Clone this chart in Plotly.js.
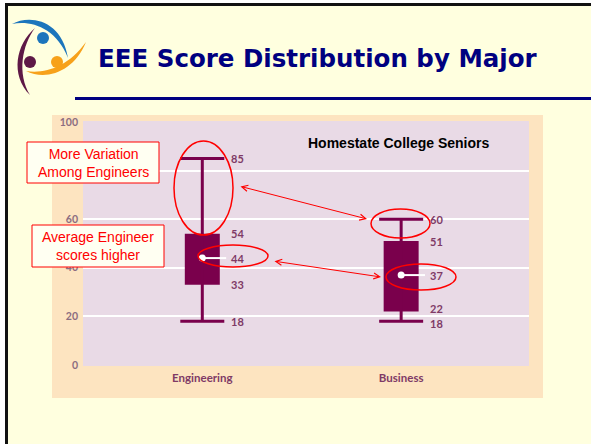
<!DOCTYPE html>
<html>
<head>
<meta charset="utf-8">
<script src="https://cdn.plot.ly/plotly-3.0.1.min.js"></script>
<style>html,body{margin:0;padding:0;background:#FFFFDF;}#chart{width:591px;height:444px;}</style>
</head>
<body>
<div id="chart"></div>
<script>
// ---- data ----
const categories = ['Engineering', 'Business'];
const lowerWhisker = [18, 18];
const q1 = [33, 22];
const median = [44, 37];
const q3 = [54, 51];
const upperWhisker = [85, 60];
const yTicks = [0, 20, 40, 60, 80, 100];
const chartTitle = 'EEE Score Distribution by Major';
const subTitle = 'Homestate College Seniors';
const note1 = 'More Variation<br>Among Engineers';
const note2 = 'Average Engineer<br>scores higher';

// ---- layout geometry ----
const W = 591, H = 444;
const L = 83, T = 122, PW = 446, PH = 243;
const px = (x) => (x - L) / PW;
const py = (y) => (T + PH - y) / PH;
const P = (x, y) => px(x) + ',' + py(y);

const boxColor = '#7A004C';
const labelColor = '#7F3A66';
const xIdx = categories.map((_, i) => i);

const traces = [
  {
    type: 'bar', x: xIdx, base: q1, y: q3.map((v, i) => v - q1[i]),
    width: 0.176, marker: { color: boxColor, line: { width: 0 } },
    hoverinfo: 'skip', showlegend: false
  },
  {
    type: 'scatter', mode: 'markers', x: xIdx, y: median,
    marker: { color: 'rgba(0,0,0,0)', size: 1 },
    error_y: {
      type: 'data', symmetric: false,
      array: upperWhisker.map((v, i) => v - median[i]),
      arrayminus: lowerWhisker.map((v, i) => median[i] - v),
      color: boxColor, thickness: 3, width: 22
    },
    hoverinfo: 'skip', showlegend: false
  },
  {
    type: 'scatter', mode: 'markers', x: xIdx, y: median,
    marker: { color: '#FFFFFF', size: 7 },
    error_x: {
      type: 'data', symmetric: false, array: xIdx.map(() => 0.12),
      arrayminus: xIdx.map(() => 0), color: '#FFFFFF', thickness: 2, width: 0
    },
    hoverinfo: 'skip', showlegend: false
  }
];

// value labels with simple de-overlap
const annotations = [];
const pxPerUnit = PH / 100;
xIdx.forEach((i) => {
  const vals = [upperWhisker[i], q3[i], median[i], q1[i], lowerWhisker[i]];
  const shifts = vals.map(() => 0);
  for (let k = 0; k < vals.length - 1; k++) {
    const gap = (vals[k] - vals[k + 1]) * pxPerUnit;
    if (gap < 15) { const d = (15 - gap) / 2; shifts[k] += d; shifts[k + 1] -= d; }
  }
  vals.forEach((v, k) => {
    annotations.push({
      x: i, y: v, xref: 'x', yref: 'y', text: String(v), showarrow: false,
      xanchor: 'left', yanchor: 'middle', xshift: 27, yshift: shifts[k],
      font: { family: 'Lato, "Open Sans", sans-serif', size: 11, weight: 700, color: labelColor }
    });
  });
});

// title
annotations.push({
  x: px(96), y: py(59), xref: 'paper', yref: 'paper', text: chartTitle, showarrow: false,
  xanchor: 'left', yanchor: 'middle',
  font: { family: '"DejaVu Sans", Verdana, sans-serif', size: 24.5, weight: 700, color: '#000080' }
});
annotations.push({
  x: px(398), y: py(143), xref: 'paper', yref: 'paper', text: '<b>' + subTitle + '</b>', showarrow: false,
  xanchor: 'center', yanchor: 'middle',
  font: { family: '"Liberation Sans", Arial, sans-serif', size: 14, color: '#000000' }
});
annotations.push({
  x: px(93), y: py(162.5), xref: 'paper', yref: 'paper', text: note1, showarrow: false,
  xanchor: 'center', yanchor: 'middle',
  font: { family: '"Liberation Sans", Arial, sans-serif', size: 14, color: '#FF0000' }
});
annotations.push({
  x: px(98), y: py(246), xref: 'paper', yref: 'paper', text: note2, showarrow: false,
  xanchor: 'center', yanchor: 'middle',
  font: { family: '"Liberation Sans", Arial, sans-serif', size: 14, color: '#FF0000' }
});
// double-headed arrows
function dblArrow(x1, y1, x2, y2) {
  return {
    x: px(x2), y: py(y2), xref: 'paper', yref: 'paper', text: '', showarrow: true,
    ax: x1 - x2, ay: y1 - y2, axref: 'pixel', ayref: 'pixel',
    arrowside: 'end+start', arrowhead: 5, startarrowhead: 5,
    arrowsize: 1.2, startarrowsize: 1.2, arrowwidth: 1, arrowcolor: '#FF0000',
    standoff: 0, startstandoff: 0
  };
}
annotations.push(dblArrow(239, 186, 367, 219));
annotations.push(dblArrow(273, 261, 381, 277));

const shapes = [
  // slide frame
  { type: 'rect', xref: 'paper', yref: 'paper', x0: px(0), x1: px(W), y0: py(0), y1: py(3), fillcolor: '#FFFFFF', line: { width: 0 }, layer: 'below' },
  { type: 'rect', xref: 'paper', yref: 'paper', x0: px(0), x1: px(5), y0: py(0), y1: py(H), fillcolor: '#FFFFFF', line: { width: 0 }, layer: 'below' },
  { type: 'rect', xref: 'paper', yref: 'paper', x0: px(5), x1: px(W), y0: py(3), y1: py(6), fillcolor: '#111111', line: { width: 0 }, layer: 'below' },
  { type: 'rect', xref: 'paper', yref: 'paper', x0: px(5), x1: px(8), y0: py(3), y1: py(H), fillcolor: '#111111', line: { width: 0 }, layer: 'below' },
  // chart backgrounds
  { type: 'rect', xref: 'paper', yref: 'paper', x0: px(52), x1: px(543), y0: py(115), y1: py(398), fillcolor: '#FDE4C0', line: { width: 0 }, layer: 'below' },
  { type: 'rect', xref: 'paper', yref: 'paper', x0: px(83), x1: px(529), y0: py(121), y1: py(366), fillcolor: '#E9DAE6', line: { width: 0 }, layer: 'below' },
  // title underline
  { type: 'line', xref: 'paper', yref: 'paper', x0: px(75), x1: px(W), y0: py(98.5), y1: py(98.5), line: { color: '#000080', width: 3 } },
  // logo
  { type: 'path', xref: 'paper', yref: 'paper', layer: 'above', fillcolor: '#1C75BC', line: { width: 0 },
    path: 'M' + P(12, 24) + ' C' + P(30, 14) + ' ' + P(62, 20) + ' ' + P(68, 58) + ' C' + P(56, 27) + ' ' + P(30, 20) + ' ' + P(12, 24) + ' Z' },
  { type: 'path', xref: 'paper', yref: 'paper', layer: 'above', fillcolor: '#5E1846', line: { width: 0 },
    path: 'M' + P(35, 28) + ' C' + P(16, 44) + ' ' + P(10, 75) + ' ' + P(30, 95) + ' C' + P(17, 74) + ' ' + P(22, 45) + ' ' + P(35, 28) + ' Z' },
  { type: 'path', xref: 'paper', yref: 'paper', layer: 'above', fillcolor: '#F7A11A', line: { width: 0 },
    path: 'M' + P(26, 71) + ' C' + P(46, 81) + ' ' + P(74, 72) + ' ' + P(86, 42) + ' C' + P(68, 67) + ' ' + P(45, 74) + ' ' + P(26, 71) + ' Z' },
  { type: 'circle', xref: 'paper', yref: 'paper', x0: px(37), x1: px(49), y0: py(32), y1: py(44), fillcolor: '#1C75BC', line: { width: 0 } },
  { type: 'circle', xref: 'paper', yref: 'paper', x0: px(24), x1: px(36), y0: py(56), y1: py(68), fillcolor: '#5E1846', line: { width: 0 } },
  { type: 'circle', xref: 'paper', yref: 'paper', x0: px(51), x1: px(63), y0: py(56), y1: py(68), fillcolor: '#F7A11A', line: { width: 0 } },
  // note boxes
  { type: 'rect', xref: 'paper', yref: 'paper', x0: px(27), x1: px(159), y0: py(142), y1: py(183), fillcolor: '#FFFFF2', line: { color: '#FF0000', width: 1 } },
  { type: 'rect', xref: 'paper', yref: 'paper', x0: px(32), x1: px(164), y0: py(225), y1: py(267), fillcolor: '#FFFFF2', line: { color: '#FF0000', width: 1 } },
  // ellipses
  { type: 'circle', xref: 'paper', yref: 'paper', x0: px(174), x1: px(233), y0: py(141), y1: py(235), line: { color: '#FF0000', width: 1.5 } },
  { type: 'circle', xref: 'paper', yref: 'paper', x0: px(198), x1: px(268), y0: py(245), y1: py(267), line: { color: '#FF0000', width: 1.5 } },
  { type: 'circle', xref: 'paper', yref: 'paper', x0: px(371), x1: px(430), y0: py(209), y1: py(238), line: { color: '#FF0000', width: 1.5 } },
  { type: 'circle', xref: 'paper', yref: 'paper', x0: px(386), x1: px(456), y0: py(264), y1: py(290), line: { color: '#FF0000', width: 1.5 } }
];

const layout = {
  width: W, height: H, autosize: false,
  margin: { l: L, r: W - L - PW, t: T, b: H - T - PH, pad: 0 },
  paper_bgcolor: '#FFFFDF', plot_bgcolor: 'rgba(0,0,0,0)',
  showlegend: false, barmode: 'overlay',
  xaxis: {
    range: [-0.6, 1.643], tickvals: xIdx, ticktext: categories, showgrid: false, zeroline: false,
    showline: false, ticks: '', ticklabelstandoff: 4, fixedrange: true,
    tickfont: { family: 'Lato, "Open Sans", sans-serif', size: 11.5, weight: 700, color: labelColor }
  },
  yaxis: {
    range: [0, 100], tickvals: yTicks, showgrid: true, gridcolor: '#FFFFFF', gridwidth: 2,
    zeroline: false, showline: false, ticks: '', ticklabelstandoff: 4, fixedrange: true,
    tickfont: { family: 'Lato, "Open Sans", sans-serif', size: 10.5, weight: 700, color: '#8C6D80' }
  },
  shapes: shapes,
  annotations: annotations
};

Plotly.newPlot('chart', traces, layout, { displayModeBar: false, staticPlot: true });
</script>
</body>
</html>
